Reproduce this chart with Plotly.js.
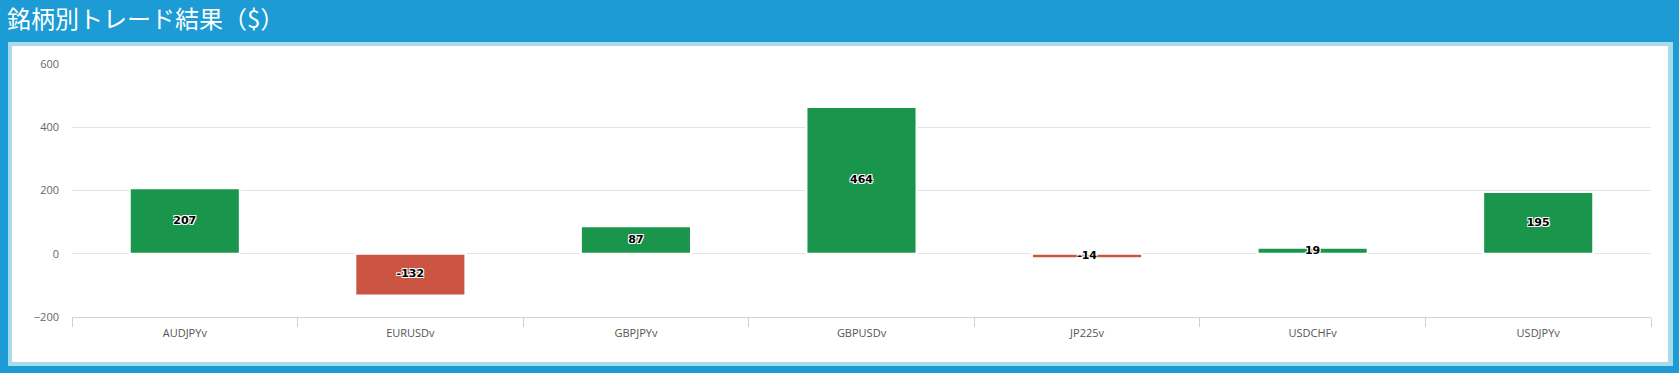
<!DOCTYPE html>
<html>
<head>
<meta charset="utf-8">
<script src="https://cdn.plot.ly/plotly-3.0.1.min.js"></script>
<style>
html,body{margin:0;padding:0;background:#1c9bd5;overflow:hidden;}
#chart{width:1679px;height:373px;}
</style>
</head>
<body>
<div id="chart"></div>
<script>
const chartTitle = '銘柄別トレード結果（$）';
const symbols = ['AUDJPYv', 'EURUSDv', 'GBPJPYv', 'GBPUSDv', 'JP225v', 'USDCHFv', 'USDJPYv'];
const profits = [207, -132, 87, 464, -14, 19, 195];
const yTicks = [-200, 0, 200, 400, 600];

const W = 1679, H = 373;
const M = {l: 72, r: 28, t: 64, b: 56};
const pw = W - M.l - M.r, ph = H - M.t - M.b;
const px = v => (v - M.l) / pw;
const py = v => (H - M.b - v) / ph;

const green = '#1a964c', red = '#cb5542';

const barTrace = {
  type: 'bar',
  x: symbols,
  y: profits,
  marker: {color: profits.map(v => v >= 0 ? green : red), line: {color: '#ffffff', width: 2}},
  hoverinfo: 'none'
};
const labelTrace = {
  type: 'scatter',
  mode: 'text',
  x: symbols,
  y: profits.map(v => v / 2),
  text: profits.map(v => String(v)),
  textposition: 'middle center',
  textfont: {family: 'Verdana, "DejaVu Sans", sans-serif', size: 11, color: '#000000', weight: 'bold',
    shadow: '1px 1px 0 #fff, -1px -1px 0 #fff, 1px -1px 0 #fff, -1px 1px 0 #fff'},
  hoverinfo: 'none',
  cliponaxis: false
};

const layout = {
  width: W, height: H,
  margin: M,
  paper_bgcolor: '#1c9bd5',
  plot_bgcolor: 'rgba(0,0,0,0)',
  showlegend: false,
  bargap: 0.512,
  title: {text: chartTitle, font: {family: '"Noto Sans CJK JP", sans-serif', size: 24, color: '#ffffff'},
    xref: 'container', yref: 'container', x: 7 / W, xanchor: 'left', y: 1 - 20 / H, yanchor: 'middle'},
  font: {family: '"Open Sans", sans-serif', size: 11, color: '#666666'},
  xaxis: {
    type: 'category',
    showline: true, linecolor: '#c9d2e2', linewidth: 1,
    ticks: 'outside', ticklen: 9, tickcolor: '#c9d2e2', tickson: 'boundaries',
    showgrid: false, zeroline: false,
    ticklabelstandoff: 6,
    tickfont: {size: 11, color: '#555555'},
    fixedrange: true
  },
  yaxis: {
    range: [-200, 600],
    tickvals: yTicks,
    showline: false,
    showgrid: true, gridcolor: '#e4e4e4', gridwidth: 1,
    zeroline: true, zerolinecolor: '#e4e4e4', zerolinewidth: 1,
    ticklabelstandoff: 12,
    tickfont: {size: 11, color: '#666666'},
    fixedrange: true
  },
  shapes: [
    {type: 'rect', xref: 'paper', yref: 'paper', x0: px(8), x1: px(1673), y0: py(366), y1: py(42),
      fillcolor: '#a9dcea', line: {width: 0}, layer: 'below'},
    {type: 'rect', xref: 'paper', yref: 'paper', x0: px(12), x1: px(1668), y0: py(362), y1: py(46),
      fillcolor: '#ffffff', line: {width: 0}, layer: 'below'}
  ]
};

Plotly.newPlot('chart', [barTrace, labelTrace], layout, {displayModeBar: false, staticPlot: true});
</script>
</body>
</html>
